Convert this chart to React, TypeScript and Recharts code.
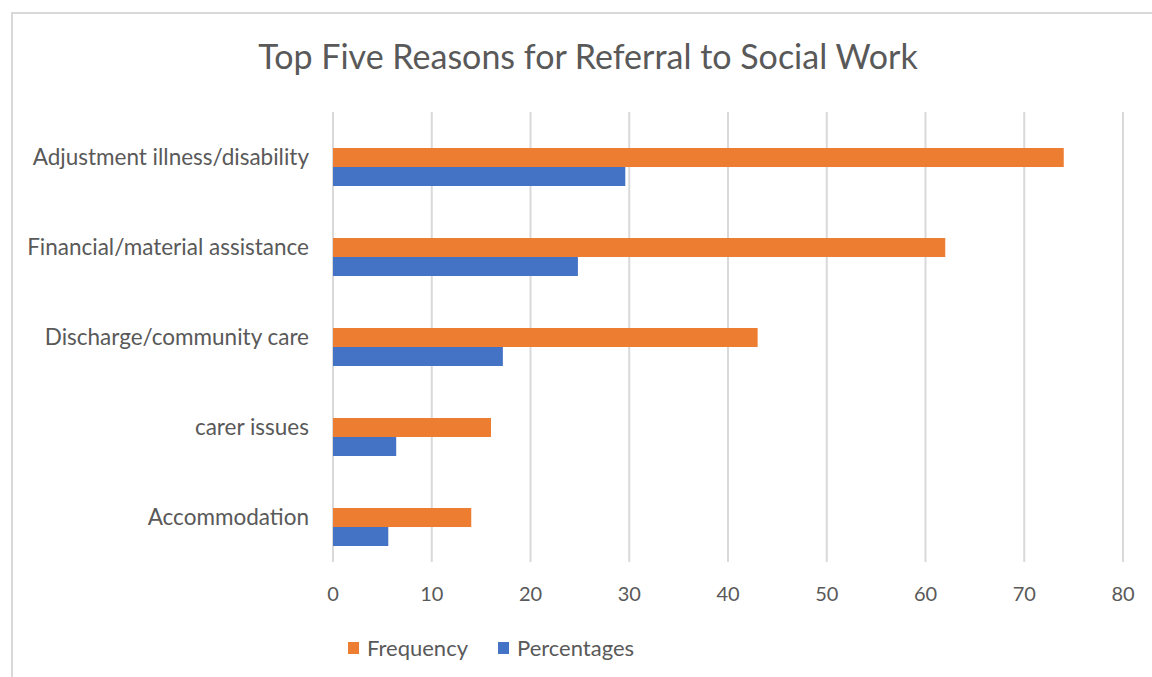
import { Bar, BarChart, CartesianGrid, XAxis, YAxis } from "recharts";

const categories = [
  "Adjustment illness/disability",
  "Financial/material assistance",
  "Discharge/community care",
  "carer issues",
  "Accommodation",
];
const frequency = [74, 62, 43, 16, 14];
const percentages = [29.6, 24.8, 17.2, 6.4, 5.6];
const xTicks = [0, 10, 20, 30, 40, 50, 60, 70, 80];

const series = [
  { key: "Frequency", color: "#ED7D31" },
  { key: "Percentages", color: "#4472C4" },
];

const data = categories.map((name, i) => ({
  name,
  Frequency: frequency[i],
  Percentages: percentages[i],
}));

const FONT = "Lato, 'Open Sans', sans-serif";
const TEXT = "#595959";

export default function App() {
  return (
    <div
      style={{
        position: "absolute",
        left: 0,
        top: 0,
        width: 1152,
        height: 677,
        overflow: "hidden",
        background: "#fff",
        fontFamily: FONT,
      }}
    >
      {/* chart frame */}
      <div
        style={{
          position: "absolute",
          left: 11,
          top: 12,
          width: 1300,
          height: 800,
          border: "2px solid #d9d9d9",
        }}
      />
      <div
        style={{
          position: "absolute",
          left: 0,
          width: 1176,
          top: 35,
          textAlign: "center",
          fontSize: 34,
          color: TEXT,
        }}
      >
        Top Five Reasons for Referral to Social Work
      </div>
      <div style={{ position: "absolute", left: 0, top: 0 }}>
        <BarChart
          width={1152}
          height={677}
          data={data}
          layout="vertical"
          margin={{ top: 112, right: 29, bottom: 75, left: 0 }}
          barCategoryGap="19%"
          barGap={0}
        >
          <CartesianGrid horizontal={false} stroke="#d9d9d9" strokeWidth={2} />
          <XAxis
            type="number"
            domain={[0, 80]}
            ticks={xTicks}
            axisLine={false}
            tickLine={false}
            tickSize={0}
            tickMargin={25}
            height={40}
            tick={{ fill: TEXT, fontSize: 20, fontFamily: FONT }}
          />
          <YAxis
            type="category"
            dataKey="name"
            width={333}
            axisLine={false}
            tickLine={false}
            tickSize={0}
            tickMargin={24}
            tick={{ fill: TEXT, fontSize: 22.5, fontFamily: FONT }}
          />
          {/* empty slot kept by the source chart above each pair */}
          <Bar dataKey="blank" legendType="none" isAnimationActive={false} />
          {series.map((s) => (
            <Bar
              key={s.key}
              dataKey={s.key}
              fill={s.color}
              isAnimationActive={false}
            />
          ))}
        </BarChart>
      </div>
      {/* legend */}
      <div
        style={{
          position: "absolute",
          left: 348,
          top: 634,
          display: "flex",
          alignItems: "center",
          fontSize: 22,
          color: TEXT,
        }}
      >
        {series.map((s) => (
          <div
            key={s.key}
            style={{ display: "flex", alignItems: "center", marginRight: 30 }}
          >
            <span
              style={{
                display: "inline-block",
                width: 11,
                height: 12,
                background: s.color,
                marginRight: 8,
              }}
            />
            {s.key}
          </div>
        ))}
      </div>
    </div>
  );
}
